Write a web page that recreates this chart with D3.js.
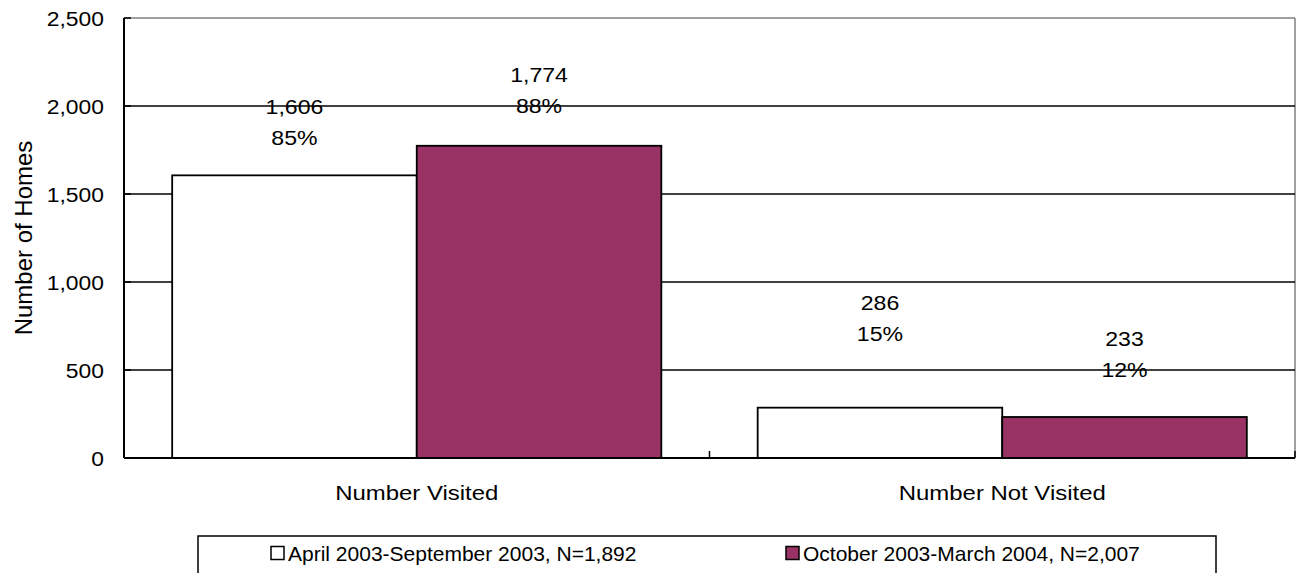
<!DOCTYPE html>
<html>
<head>
<meta charset="utf-8">
<script src="https://cdn.jsdelivr.net/npm/d3@7"></script>
<style>
  html, body { margin: 0; padding: 0; background: #fff; }
  svg { display: block; }
  text { font-family: "Liberation Sans", Arial, sans-serif; fill: #000; }
</style>
</head>
<body>
<svg id="chart" width="1301" height="573"></svg>
<script>
// ---- data ----
const categories = ["Number Visited", "Number Not Visited"];
const seriesNames = ["April 2003-September 2003, N=1,892", "October 2003-March 2004, N=2,007"];
const seriesApr = [1606, 286];
const seriesOct = [1774, 233];
const pctApr = ["85%", "15%"];
const pctOct = ["88%", "12%"];
const yTicks = [0, 500, 1000, 1500, 2000, 2500];
const yTitle = "Number of Homes";

// ---- layout ----
const W = 1301, H = 573;
const plot = { left: 124, right: 1295, top: 18, bottom: 458 };
const colors = ["#ffffff", "#993366"];
const FS = 21;
// vertical lift (px) of the second label line above the bar top, per category, per series
const labelLift = [[30, 33], [67, 40]];

const svg = d3.select("#chart");

const x0 = d3.scaleBand().domain(categories).range([plot.left, plot.right]).padding(0);
const x1 = d3.scaleBand().domain([0, 1]).range([0, x0.bandwidth()]).paddingInner(0).paddingOuter(0.197);
const y = d3.scaleLinear().domain([0, 2500]).range([plot.bottom, plot.top]);

const fmt = d3.format(",");

function stretchedText(g, x, yy, str, sx, anchor, size) {
  return g.append("text")
    .attr("transform", `translate(${x},${yy}) scale(${sx},1)`)
    .attr("text-anchor", anchor)
    .attr("font-size", size || FS)
    .text(str);
}

// frame: top & right grey
svg.append("line").attr("x1", plot.left).attr("x2", plot.right).attr("y1", plot.top).attr("y2", plot.top)
  .attr("stroke", "#808080").attr("stroke-width", 1.5);
svg.append("line").attr("x1", plot.right).attr("x2", plot.right).attr("y1", plot.top).attr("y2", plot.bottom)
  .attr("stroke", "#808080").attr("stroke-width", 1.5);

// gridlines
svg.append("g").selectAll("line").data(yTicks.filter(d => d > 0 && d < 2500)).join("line")
  .attr("x1", plot.left).attr("x2", plot.right)
  .attr("y1", d => y(d)).attr("y2", d => y(d))
  .attr("stroke", "#000").attr("stroke-width", 1.5);

// bars
const series = [seriesApr, seriesOct];
const pcts = [pctApr, pctOct];
const barData = [];
categories.forEach((c, ci) => {
  series.forEach((s, si) => {
    barData.push({ c, ci, si, v: s[ci], p: pcts[si][ci] });
  });
});

svg.append("g").selectAll("rect").data(barData).join("rect")
  .attr("x", d => x0(d.c) + x1(d.si))
  .attr("y", d => y(d.v))
  .attr("width", x1.bandwidth())
  .attr("height", d => y(0) - y(d.v))
  .attr("fill", d => colors[d.si])
  .attr("stroke", "#000").attr("stroke-width", 1.8);

// axes lines
svg.append("line").attr("x1", plot.left).attr("x2", plot.left).attr("y1", plot.top).attr("y2", plot.bottom)
  .attr("stroke", "#000").attr("stroke-width", 2);
svg.append("line").attr("x1", plot.left).attr("x2", plot.right).attr("y1", plot.bottom).attr("y2", plot.bottom)
  .attr("stroke", "#000").attr("stroke-width", 2);

// y ticks (inside) and labels
const yAxisG = svg.append("g");
yAxisG.selectAll("line").data(yTicks).join("line")
  .attr("x1", plot.left).attr("x2", plot.left + 7)
  .attr("y1", d => y(d)).attr("y2", d => y(d))
  .attr("stroke", "#000").attr("stroke-width", 1.5);
yTicks.forEach(t => stretchedText(yAxisG, 104, y(t) + 7.5, fmt(t), 1.09, "end"));

// x ticks (inside) at category boundaries
const xBounds = [plot.left].concat(categories.map(c => x0(c) + x0.bandwidth()));
svg.append("g").selectAll("line").data(xBounds).join("line")
  .attr("x1", d => d).attr("x2", d => d)
  .attr("y1", plot.bottom).attr("y2", plot.bottom - 7)
  .attr("stroke", "#000").attr("stroke-width", 1.5);

// category labels
const xLabG = svg.append("g");
categories.forEach(c => stretchedText(xLabG, x0(c) + x0.bandwidth() / 2, 500, c, 1.14, "middle"));

// data labels
const dlG = svg.append("g");
barData.forEach(d => {
  const cx = x0(d.c) + x1(d.si) + x1.bandwidth() / 2;
  const base2 = y(d.v) - labelLift[d.ci][d.si];
  stretchedText(dlG, cx, base2 - 31, fmt(d.v), 1.1, "middle");
  stretchedText(dlG, cx, base2, d.p, 1.1, "middle");
});

// y title
svg.append("text")
  .attr("transform", `translate(32,${(plot.top + plot.bottom) / 2}) rotate(-90)`)
  .attr("text-anchor", "middle")
  .attr("font-size", 24)
  .text(yTitle);

// legend
const lg = svg.append("g");
lg.append("rect").attr("x", 198).attr("y", 536).attr("width", 1018).attr("height", 60)
  .attr("fill", "#fff").attr("stroke", "#000").attr("stroke-width", 1.5);
const legX = [271, 786];
seriesNames.forEach((n, i) => {
  lg.append("rect").attr("x", legX[i]).attr("y", 546.5).attr("width", 13).attr("height", 13)
    .attr("fill", colors[i]).attr("stroke", "#000").attr("stroke-width", 1.5);
  stretchedText(lg, legX[i] + 17, 560.5, n, 1.0, "start");
});
</script>
</body>
</html>
